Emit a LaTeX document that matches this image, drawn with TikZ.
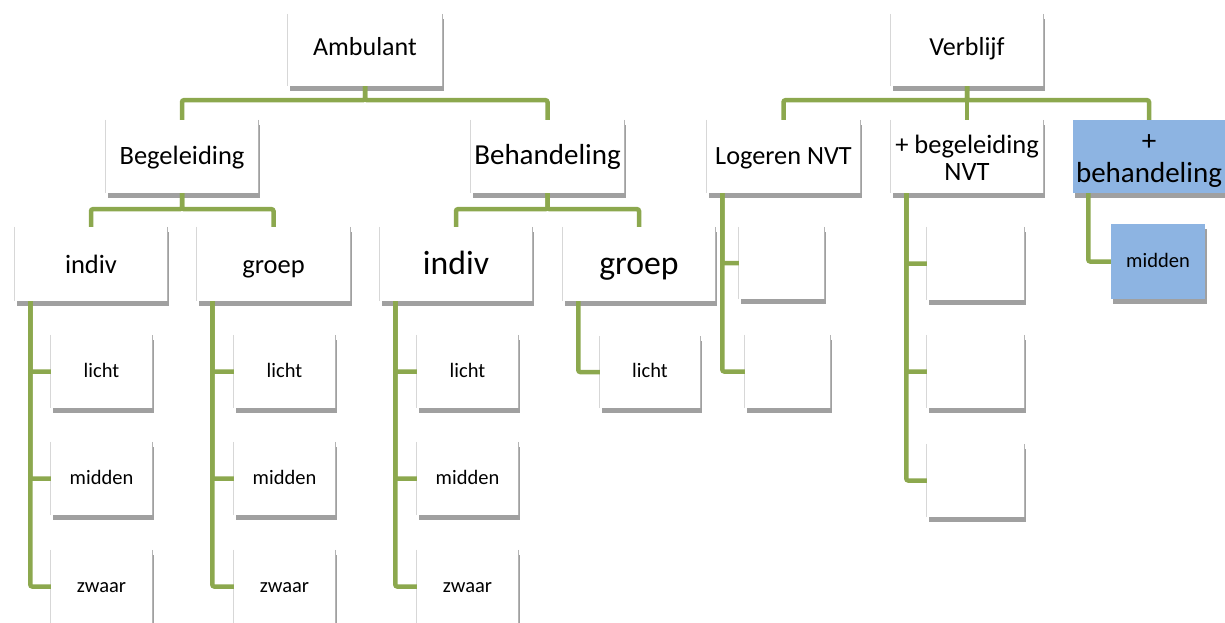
\documentclass[tikz,border=0pt]{standalone}
\usepackage{fontspec}
\setmainfont{Carlito}
\usetikzlibrary{shadows,calc}
\definecolor{greenline}{RGB}{140,168,78}
\definecolor{bluebox}{RGB}{141,180,226}
\definecolor{shadowgray}{RGB}{160,160,160}
\definecolor{edgeL}{RGB}{215,215,215}
\definecolor{edgeR}{RGB}{180,180,180}
\newcommand\fsz[2]{\fontsize{#1}{#2}\selectfont}
\tikzset{
  box/.style={fill=white, inner sep=0pt, align=center, text=black,
    execute at begin node=\strut,
    general shadow={fill=shadowgray, shadow xshift=1.5pt, shadow yshift=-4.5pt}},
  multi/.style={execute at begin node={}},
  bluenode/.style={box, fill=bluebox},
  sz/.style 2 args={minimum width=#1pt, minimum height=#2pt},
  link/.style={draw=greenline, line width=4.5pt, rounded corners=2pt},
  leftedge/.style={draw=edgeL, line width=0.8pt},
  rightedge/.style={draw=edgeR, line width=1.2pt},
  big/.style={font=\fsz{26}{29}},
  small/.style={font=\fsz{20.5}{28}},
}
\begin{document}
\begin{tikzpicture}[x=1pt,y=-1pt]
\useasboundingbox (0,0) rectangle (1225,622);
% level 1
\node[box,sz={154}{72},big] (amb) at (365,50) {Ambulant};
\node[box,sz={152}{72},big] (ver) at (967,50) {Verblijf};
% level 2
\node[box,sz={152}{73},font=\fsz{26.5}{39}] (beg) at (182,156.5) {Begeleiding};
\node[box,sz={153}{73},font=\fsz{29}{42}] (beh) at (547.5,156.5) {Behandeling};
\node[box,sz={153}{73},font=\fsz{26.3}{39}] (log) at (783.5,156.5) {Logeren NVT};
\node[box,multi,sz={152}{73},font=\fsz{26.5}{27.5}] (pbeg) at (967,156.5) {\rule{0pt}{29pt}+ begeleiding\\NVT};
\node[bluenode,multi,sz={152}{73},font=\fsz{29}{32}] (pbeh) at (1149,156.5) {\rule{0pt}{29pt}+\\behandeling};
% level 3
\node[box,sz={152}{74},font=\fsz{26.5}{45}] (ind1) at (91,264) {indiv};
\node[box,sz={153}{74},font=\fsz{26.5}{45}] (grp1) at (273.5,264) {groep};
\node[box,sz={152}{74},font=\fsz{33.7}{53}] (ind2) at (456,264) {indiv};
\node[box,sz={152}{74},font=\fsz{33.7}{53}] (grp2) at (639,264) {groep};
% level 4
\node[box,sz={101}{73},small] (i1a) at (101.5,371.5) {licht};
\node[box,sz={101}{73},small] (i1b) at (101.5,478.5) {midden};
\node[box,sz={101}{73},small] (i1c) at (101.5,586.5) {zwaar};
\node[box,sz={101}{73},small] (g1a) at (284.5,371.5) {licht};
\node[box,sz={101}{73},small] (g1b) at (284.5,478.5) {midden};
\node[box,sz={101}{73},small] (g1c) at (284.5,586.5) {zwaar};
\node[box,sz={101}{73},small] (i2a) at (467.5,371.5) {licht};
\node[box,sz={101}{73},small] (i2b) at (467.5,478.5) {midden};
\node[box,sz={101}{73},small] (i2c) at (467.5,586.5) {zwaar};
\node[box,sz={100}{72},small] (g2a) at (650,372) {licht};
\node[box,sz={85}{72}] (la) at (781.5,263) {};
\node[box,sz={85}{73}] (lb) at (787.5,371.5) {};
\node[box,sz={97}{73}] (pa) at (975.5,263.5) {};
\node[box,sz={97}{73}] (pb) at (975.5,371.5) {};
\node[box,sz={97}{73}] (pc) at (975.5,480.5) {};
\node[bluenode,sz={94}{75},small] (pm) at (1158,261.5) {midden};
% side edges
\foreach \n in {amb,ver,beg,beh,log,pbeg,ind1,grp1,ind2,grp2,i1a,i1b,i1c,g1a,g1b,g1c,i2a,i2b,i2c,g2a,la,lb,pa,pb,pc}{
  \draw[leftedge] (\n.north west) -- (\n.south west);
  \draw[rightedge] (\n.north east) -- (\n.south east);
}
% connectors
\draw[link] (amb.south) -- ++(0,14) -| (beg.north);
\draw[link] (amb.south) -- ++(0,14) -| (beh.north);
\draw[link] (ver.south) -- ++(0,14) -| (log.north);
\draw[link] (ver.south) -- ++(0,14) -| (pbeg.north);
\draw[link] (ver.south) -- ++(0,14) -| (pbeh.north);
\draw[link] (beg.south) -- ++(0,16) -| (ind1.north);
\draw[link] (beg.south) -- ++(0,16) -| (grp1.north);
\draw[link] (beh.south) -- ++(0,16) -| (ind2.north);
\draw[link] (beh.south) -- ++(0,16) -| (grp2.north);
\foreach \p/\c in {ind1/i1a,ind1/i1b,ind1/i1c,grp1/g1a,grp1/g1b,grp1/g1c,ind2/i2a,ind2/i2b,ind2/i2c,grp2/g2a,log/la,log/lb,pbeg/pa,pbeg/pb,pbeg/pc,pbeh/pm}{
  \draw[link] ($(\p.south west)+(15.5,0)$) |- (\c.west);
}
\end{tikzpicture}
\end{document}
